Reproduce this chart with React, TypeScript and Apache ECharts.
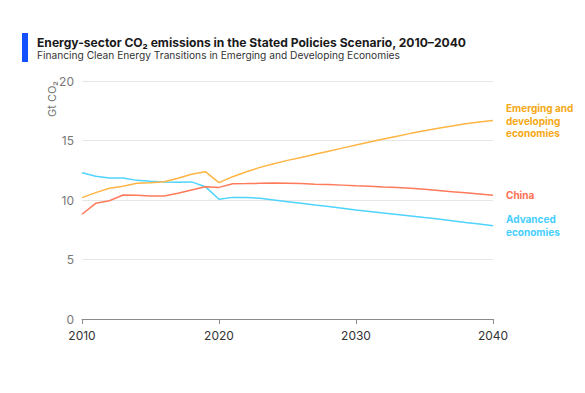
import React, { useEffect, useRef } from "react";
import * as echarts from "echarts";

const years = [2010, 2011, 2012, 2013, 2014, 2015, 2016, 2017, 2018, 2019, 2020, 2021, 2022, 2023, 2024, 2025, 2026, 2027, 2028, 2029, 2030, 2031, 2032, 2033, 2034, 2035, 2036, 2037, 2038, 2039, 2040];

const emerging = [10.2, 10.62, 10.98, 11.15, 11.4, 11.45, 11.54, 11.82, 12.16, 12.38, 11.46, 11.96, 12.38, 12.74, 13.05, 13.33, 13.58, 13.84, 14.1, 14.36, 14.62, 14.87, 15.12, 15.36, 15.6, 15.82, 16.02, 16.22, 16.4, 16.55, 16.68];
const china = [8.8, 9.72, 9.94, 10.42, 10.4, 10.34, 10.33, 10.56, 10.84, 11.12, 11.06, 11.37, 11.38, 11.4, 11.42, 11.4, 11.38, 11.33, 11.3, 11.25, 11.2, 11.16, 11.1, 11.05, 10.98, 10.9, 10.8, 10.7, 10.6, 10.5, 10.4];
const advanced = [12.29, 12.0, 11.85, 11.85, 11.65, 11.57, 11.52, 11.5, 11.52, 11.12, 10.06, 10.22, 10.2, 10.14, 10.0, 9.86, 9.72, 9.58, 9.45, 9.31, 9.16, 9.03, 8.9, 8.78, 8.66, 8.52, 8.4, 8.25, 8.1, 7.98, 7.84];

const seriesNames = ["Emerging and\ndeveloping\neconomies", "China", "Advanced\neconomies"];
const lineColors = ["#ffb443", "#ff7a5a", "#4fd3ff"];
const labelColors = ["#f5a814", "#ff6f52", "#45ceff"];

const yTicks = { min: 0, max: 20, interval: 5 };
const xTicks = { min: 2010, max: 2040, interval: 10 };

const FONT = "Inter, 'Noto Sans', sans-serif";

export default function App() {
  const ref = useRef<HTMLDivElement>(null);
  useEffect(() => {
    if (!ref.current) return;
    const chart = echarts.init(ref.current, null, { renderer: "svg" });
    const datasets = [emerging, china, advanced];
    chart.setOption({
      animation: false,
      textStyle: { fontFamily: FONT },
      grid: { left: 74, right: 92, top: 73, bottom: 74, containLabel: false },
      xAxis: {
        type: "value",
        min: xTicks.min,
        max: xTicks.max,
        interval: xTicks.interval,
        axisLine: { show: true, lineStyle: { color: "#8a8a8a", width: 1 } },
        axisTick: { show: true, length: 5, lineStyle: { color: "#8a8a8a" } },
        axisLabel: { color: "#333", fontSize: 12, margin: 10, fontFamily: FONT, formatter: (v: number) => String(v) },
        splitLine: { show: false },
      },
      yAxis: {
        type: "value",
        min: yTicks.min,
        max: yTicks.max,
        interval: yTicks.interval,
        axisLine: { show: false },
        axisTick: { show: false },
        axisLabel: { color: "#777", fontSize: 12, margin: 8, fontFamily: FONT },
        splitLine: { show: true, lineStyle: { color: "#e6e6e6", width: 1 } },
      },
      series: datasets.map((d, i) => ({
        type: "line",
        name: seriesNames[i],
        data: years.map((y, j) => [y, d[j]]),
        showSymbol: false,
        symbol: "none",
        lineStyle: { color: lineColors[i], width: 1.5 },
        itemStyle: { color: lineColors[i] },
        z: i === 0 ? 3 : i === 1 ? 4 : 2,
        endLabel: {
          show: true,
          formatter: () => seriesNames[i],
          color: labelColors[i],
          fontWeight: "bold",
          fontSize: 10,
          lineHeight: 12.5,
          distance: 13,
          fontFamily: FONT,
          align: "left",
          verticalAlign: "middle",
        },
      })),
      graphic: [
        { type: "rect", left: 14, top: 25, shape: { width: 6, height: 29 }, style: { fill: "#1450ff" } },
        {
          type: "text",
          left: 29,
          top: 28,
          style: {
            text: "Energy-sector CO₂ emissions in the Stated Policies Scenario, 2010–2040",
            fill: "#1a1a1a",
            font: `bold 12.1px ${FONT}`,
          },
        },
        {
          type: "text",
          left: 29,
          top: 42,
          style: {
            text: "Financing Clean Energy Transitions in Emerging and Developing Economies",
            fill: "#333",
            font: `10.2px ${FONT}`,
          },
        },
        {
          type: "text",
          x: 44,
          y: 91,
          rotation: Math.PI / 2,
          style: {
            text: "Gt CO₂",
            fill: "#777",
            font: `11px ${FONT}`,
            align: "center",
            verticalAlign: "middle",
          },
        },
      ],
    });
    return () => chart.dispose();
  }, []);
  return <div ref={ref} style={{ width: 577, height: 385 }} />;
}
